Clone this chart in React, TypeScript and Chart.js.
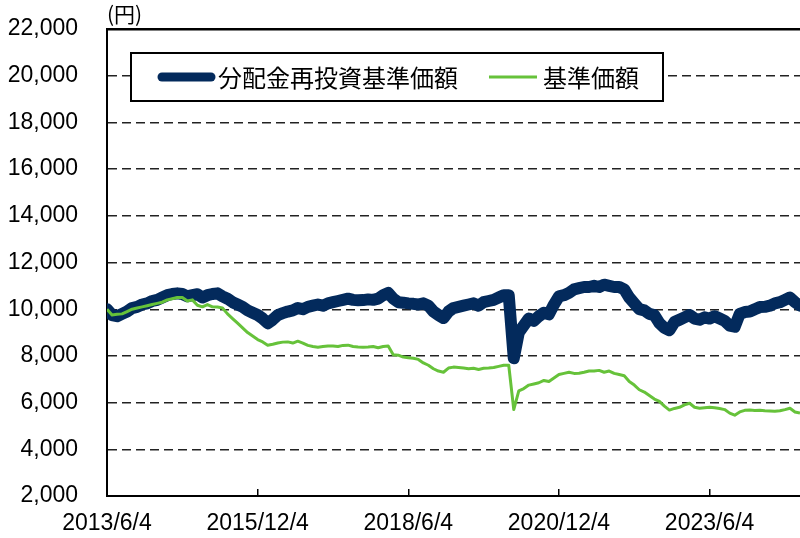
import React, { useEffect, useRef } from 'react';
import { Chart, registerables } from 'chart.js';

Chart.register(...registerables);

// ---- data ----
const tickLabels = ['2013/6/4', '2015/12/4', '2018/6/4', '2020/12/4', '2023/6/4'];
const tickMonths = [0, 30, 60, 90, 120];
const lastMonth = 138;
const yMin = 2000;
const yMax = 22000;
const yStep = 2000;
const unitLabel = '(円)';
const seriesNames = ['分配金再投資基準価額', '基準価額'];

// monthly values, 2013/6 .. 2024/12
const reinvestedNav = [
  10000, 9750, 9700, 9800, 9900, 10050, 10100, 10200, 10250, 10350,
  10400, 10500, 10600, 10650, 10680, 10650, 10550, 10600, 10640, 10500,
  10600, 10650, 10680, 10550, 10450, 10300, 10200, 10100, 9950, 9850,
  9750, 9600, 9400, 9550, 9750, 9830, 9900, 9950, 10050, 10000,
  10100, 10150, 10200, 10150, 10250, 10300, 10350, 10400, 10450, 10400,
  10380, 10390, 10420, 10400, 10450, 10600, 10700, 10450, 10300, 10280,
  10250, 10230, 10200, 10250, 10150, 9900, 9750, 9620, 9900, 10050,
  10100, 10150, 10200, 10250, 10150, 10300, 10350, 10400, 10500, 10600,
  10600, 7900, 9000, 9300, 9600, 9500, 9700, 9850, 9780, 10200,
  10550, 10600, 10700, 10850, 10900, 10950, 10950, 11000, 10950, 11050,
  11000, 10950, 10950, 10850, 10500, 10250, 10000, 9950, 9800, 9750,
  9400, 9200, 9100, 9450, 9550, 9650, 9750, 9600, 9550, 9650,
  9600, 9700, 9600, 9500, 9300, 9250, 9800, 9880, 9900, 10000,
  10090, 10100, 10150, 10250, 10300, 10400, 10500, 10300, 10150,
];

const baseNav = [
  10000, 9750, 9780, 9800, 9900, 10000, 10050, 10100, 10150, 10200,
  10250, 10300, 10400, 10450, 10500, 10500, 10350, 10400, 10170, 10100,
  10200, 10100, 10090, 10050, 9800, 9600, 9400, 9200, 9000, 8850,
  8700, 8600, 8460, 8500, 8550, 8590, 8600, 8550, 8630, 8550,
  8450, 8400, 8370, 8400, 8420, 8420, 8400, 8450, 8460, 8400,
  8380, 8370, 8380, 8400, 8350, 8400, 8420, 8050, 8030, 7950,
  7920, 7900, 7850, 7700, 7600, 7450, 7350, 7300, 7480, 7520,
  7500, 7480, 7450, 7470, 7420, 7470, 7480, 7500, 7550, 7600,
  7600, 5700, 6500, 6600, 6750, 6800, 6850, 6950, 6900, 7050,
  7200, 7250, 7300, 7250, 7260, 7300, 7350, 7350, 7380, 7300,
  7350, 7250, 7200, 7150, 6900, 6750, 6550, 6450, 6300, 6150,
  6050, 5850, 5680, 5750, 5800, 5900, 5970, 5800, 5760, 5780,
  5800, 5780, 5750, 5700, 5550, 5460, 5600, 5670, 5680, 5660,
  5670, 5650, 5640, 5630, 5650, 5700, 5760, 5600, 5550,
];

const NAVY = '#032a5c';
const GREEN = '#66c23a';
const LATIN = '"Liberation Sans", Arial, sans-serif';
const CJK = '"Noto Sans CJK JP", "Noto Sans", sans-serif';

const boxLegendPlugin = {
  id: 'boxLegend',
  afterDraw(chart: any) {
    const { ctx, chartArea } = chart;
    ctx.save();
    // unit label
    ctx.font = `21px ${CJK}`;
    ctx.fillStyle = '#000';
    ctx.textBaseline = 'middle';
    ctx.textAlign = 'left';
    ctx.fillText(unitLabel, chartArea.left, chartArea.top - 15);

    // legend box
    const bx = chartArea.left + 24;
    const by = chartArea.top + 24;
    const bh = 48;
    ctx.font = `24px ${CJK}`;
    const w1 = ctx.measureText(seriesNames[0]).width;
    const w2 = ctx.measureText(seriesNames[1]).width;
    const l1 = bx + 27;
    const line1 = 57;
    const t1 = l1 + line1 + 3;
    const l2 = t1 + w1 + 31;
    const line2 = 48;
    const t2 = l2 + line2 + 6;
    const bw = t2 + w2 + 24 - bx;
    ctx.fillStyle = '#fff';
    ctx.fillRect(bx, by, bw, bh);
    ctx.lineWidth = 2;
    ctx.strokeStyle = '#000';
    ctx.strokeRect(bx, by, bw, bh);
    const cy = by + bh / 2;
    ctx.lineCap = 'round';
    ctx.strokeStyle = NAVY;
    ctx.lineWidth = 9;
    ctx.beginPath();
    ctx.moveTo(l1 + 4, cy);
    ctx.lineTo(l1 + line1 - 4, cy);
    ctx.stroke();
    ctx.lineCap = 'butt';
    ctx.strokeStyle = GREEN;
    ctx.lineWidth = 3;
    ctx.beginPath();
    ctx.moveTo(l2, cy);
    ctx.lineTo(l2 + line2, cy);
    ctx.stroke();
    ctx.fillStyle = '#000';
    ctx.textBaseline = 'middle';
    ctx.fillText(seriesNames[0], t1, cy + 1);
    ctx.fillText(seriesNames[1], t2, cy + 1);
    ctx.restore();
  },
};

export default function App() {
  const ref = useRef<HTMLCanvasElement>(null);
  useEffect(() => {
    document.body.style.margin = '0';
    const canvas = ref.current;
    if (!canvas) return;
    const chart = new Chart(canvas, {
      type: 'line',
      data: {
        datasets: [
          {
            label: seriesNames[0],
            data: reinvestedNav.map((v, i) => ({ x: i, y: v })),
            borderColor: NAVY,
            backgroundColor: NAVY,
            borderWidth: 12,
            borderJoinStyle: 'round',
            borderCapStyle: 'round',
            pointRadius: 0,
            tension: 0,
            order: 1,
          },
          {
            label: seriesNames[1],
            data: baseNav.map((v, i) => ({ x: i, y: v })),
            borderColor: GREEN,
            backgroundColor: GREEN,
            borderWidth: 3,
            borderJoinStyle: 'round',
            pointRadius: 0,
            tension: 0,
            order: 0,
          },
        ],
      },
      options: {
        responsive: false,
        animation: false,
        devicePixelRatio: 1,
        layout: { padding: { top: 29, right: 0, bottom: 0, left: 0 } },
        plugins: { legend: { display: false }, tooltip: { enabled: false } },
        scales: {
          x: {
            type: 'linear',
            min: 0,
            max: lastMonth,
            afterBuildTicks: (scale: any) => {
              scale.ticks = tickMonths.map((v) => ({ value: v }));
            },
            afterFit: (scale: any) => {
              scale.height = 42;
              scale.paddingLeft = 0;
              scale.paddingRight = 0;
            },
            ticks: {
              autoSkip: false,
              maxRotation: 0,
              padding: 21,
              color: '#000',
              font: { family: LATIN, size: 23 },
              callback: (value: any) => {
                const i = tickMonths.indexOf(Number(value));
                return i >= 0 ? tickLabels[i] : '';
              },
            },
            grid: {
              drawOnChartArea: false,
              drawTicks: true,
              tickLength: -7,
              color: '#000',
              lineWidth: 1.5,
            },
            border: { display: true, color: '#000', width: 2 },
          },
          y: {
            min: yMin,
            max: yMax,
            afterFit: (scale: any) => {
              scale.width = 107;
              scale.paddingTop = 0;
              scale.paddingBottom = 0;
            },
            ticks: {
              stepSize: yStep,
              padding: 29,
              color: '#000',
              font: { family: LATIN, size: 23 },
              callback: (value: any) => Number(value).toLocaleString('en-US'),
            },
            grid: {
              drawTicks: false,
              color: (c: any) =>
                c.tick && c.tick.value === yMin ? 'rgba(0,0,0,0)' : c.tick && c.tick.value === yMax ? '#000' : '#222',
              lineWidth: (c: any) => (c.tick && c.tick.value === yMax ? 2.5 : 1.4),
            },
            border: {
              display: true,
              color: '#000',
              width: 2,
              dash: (c: any) => (c.tick && c.tick.value === yMax ? [] : [9, 5]),
            },
          },
        },
      },
      plugins: [boxLegendPlugin],
    } as any);
    return () => chart.destroy();
  }, []);
  return (
    <div style={{ width: 800, height: 538 }}>
      <canvas ref={ref} width={800} height={538} style={{ width: 800, height: 538, display: 'block' }} />
    </div>
  );
}
